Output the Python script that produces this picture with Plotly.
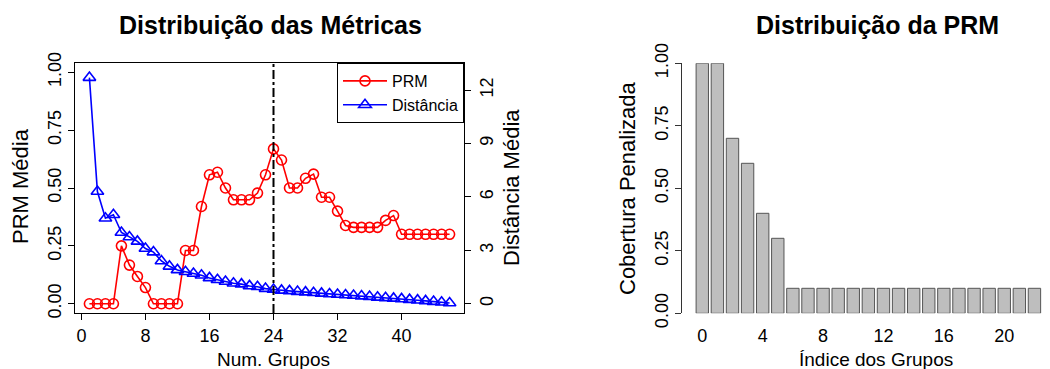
import plotly.graph_objects as go

# ---- data ----
num_grupos = [1, 2, 3, 4, 5, 6, 7, 8, 9, 10, 11, 12, 13, 14, 15, 16, 17, 18, 19, 20, 21, 22, 23,
              24, 25, 26, 27, 28, 29, 30, 31, 32, 33, 34, 35, 36, 37, 38, 39, 40, 41, 42, 43, 44, 45, 46]
prm_media = [0, 0, 0, 0, 0.25, 0.167, 0.118, 0.07, 0, 0, 0, 0, 0.23, 0.23, 0.42, 0.557, 0.568, 0.5,
             0.449, 0.449, 0.449, 0.478, 0.557, 0.669, 0.621, 0.5, 0.5, 0.542, 0.56, 0.46, 0.46, 0.40,
             0.338, 0.33, 0.33, 0.33, 0.33, 0.36, 0.381, 0.30, 0.30, 0.30, 0.30, 0.30, 0.30, 0.30]
distancia_media = [12.7, 6.3, 4.8, 5.0, 4.0, 3.75, 3.5, 3.1, 2.9, 2.4, 2.1, 1.9, 1.8, 1.7, 1.6, 1.45,
                   1.35, 1.25, 1.15, 1.1, 1.0, 0.95, 0.85, 0.8, 0.75, 0.72, 0.68, 0.65, 0.62, 0.58,
                   0.55, 0.52, 0.49, 0.46, 0.43, 0.4, 0.36, 0.33, 0.3, 0.27, 0.23, 0.2, 0.16, 0.12,
                   0.08, 0.04]
melhor_k = 24

indice_grupos = [0, 1, 2, 3, 4, 5, 6, 7, 8, 9, 10, 11, 12, 13, 14, 15, 16, 17, 18, 19, 20, 21, 22]
cobertura_penalizada = [1.0, 1.0, 0.7, 0.6, 0.4, 0.3, 0.1, 0.1, 0.1, 0.1, 0.1, 0.1, 0.1, 0.1, 0.1,
                        0.1, 0.1, 0.1, 0.1, 0.1, 0.1, 0.1, 0.1]

x_ticks_left = [0, 8, 16, 24, 32, 40]
y_ticks_left = [0, 0.25, 0.5, 0.75, 1.0]
y_ticks_right = [0, 3, 6, 9, 12]
x_ticks_bar = [0, 4, 8, 12, 16, 20]
y_ticks_bar = [0, 0.25, 0.5, 0.75, 1.0]

W, H = 1050, 369
FONT = "Liberation Sans, Arial, Helvetica, sans-serif"


def px(x):
    return x / W


def py(y):
    return 1 - y / H


fig = go.Figure()

fig.add_trace(go.Scatter(
    x=num_grupos, y=prm_media, name="PRM", mode="lines+markers",
    line=dict(color="#FF0000", width=1.6),
    marker=dict(symbol="circle-open", size=10, color="#FF0000", line=dict(width=1.6)),
    xaxis="x", yaxis="y"))
fig.add_trace(go.Scatter(
    x=num_grupos, y=distancia_media, name="Distância", mode="lines+markers",
    line=dict(color="#0000FF", width=1.6),
    marker=dict(symbol="triangle-up-open", size=11, color="#0000FF", line=dict(width=1.6)),
    xaxis="x", yaxis="y2"))

fig.add_trace(go.Bar(
    x=indice_grupos, y=cobertura_penalizada, width=0.82,
    marker=dict(color="#BEBEBE", line=dict(color="#555555", width=1)),
    showlegend=False, xaxis="x3", yaxis="y3"))

tickfont = dict(family=FONT, size=18, color="black")
common = dict(automargin=False, showgrid=False, zeroline=False, tickfont=tickfont)

fig.update_layout(
    template="none",
    width=W, height=H, margin=dict(l=0, r=0, t=0, b=0, pad=0), autosize=False,
    paper_bgcolor="white", plot_bgcolor="rgba(0,0,0,0)",
    font=dict(family=FONT, color="black"),
    xaxis=dict(domain=[px(75), px(464)], range=[-0.8, 47.8], tickvals=x_ticks_left,
               showline=True, mirror=True, linecolor="black", linewidth=1,
               ticks="outside", ticklen=6, tickcolor="black", anchor="y", **common),
    yaxis=dict(domain=[py(313), py(63)], range=[-0.04, 1.04], tickvals=y_ticks_left,
               ticktext=["0.00", "0.25", "0.50", "0.75", "1.00"],
               showline=True, mirror=True, linecolor="black", linewidth=1,
               ticks="outside", ticklen=6, tickcolor="black", tickangle=-90, anchor="x", **common),
    yaxis2=dict(overlaying="y", side="right", range=[-0.52, 13.52], tickvals=y_ticks_right,
                showline=False, ticks="outside", ticklen=6, tickcolor="black",
                tickangle=-90, anchor="x", **common),
    xaxis3=dict(domain=[px(681.7), 1.0], range=[-1.364, 23.03], tickvals=x_ticks_bar,
                showline=False, ticks="outside", ticklen=6, tickcolor="rgba(0,0,0,0)",
                anchor="y3", **common),
    yaxis3=dict(domain=[py(313.3), py(63.3)], range=[0, 1], tickvals=y_ticks_bar,
                ticktext=["0.00", "0.25", "0.50", "0.75", "1.00"],
                showline=True, linecolor="#333333", linewidth=1,
                ticks="outside", ticklen=6, tickcolor="#333333", tickangle=-90,
                anchor="x3", **common),
    legend=dict(x=px(464), xanchor="right", y=py(63), yanchor="top",
                bordercolor="black", borderwidth=1, bgcolor="white",
                font=dict(family=FONT, size=16, color="black"),
                tracegroupgap=0, itemwidth=44),
    shapes=[dict(type="line", xref="x", yref="y domain", x0=melhor_k, x1=melhor_k, y0=0, y1=1,
                 line=dict(color="black", width=2, dash="dashdot"))],
    annotations=[
        dict(text="<b>Distribuição das Métricas</b>", x=px(270), y=py(25),
             font=dict(family=FONT, size=25, color="black")),
        dict(text="<b>Distribuição da PRM</b>", x=px(877), y=py(25),
             font=dict(family=FONT, size=25, color="black")),
        dict(text="Num. Grupos", x=px(273), y=py(359),
             font=dict(family=FONT, size=19, color="black")),
        dict(text="Índice dos Grupos", x=px(876), y=py(359),
             font=dict(family=FONT, size=19, color="black")),
        dict(text="PRM Média", x=px(20), y=py(186), textangle=-90,
             font=dict(family=FONT, size=22, color="black")),
        dict(text="Distância Média", x=px(511), y=py(188), textangle=-90,
             font=dict(family=FONT, size=22, color="black")),
        dict(text="Cobertura Penalizada", x=px(627), y=py(188), textangle=-90,
             font=dict(family=FONT, size=22, color="black")),
    ],
)
for a in fig.layout.annotations:
    a.update(xref="paper", yref="paper", showarrow=False, xanchor="center", yanchor="middle")

fig.write_html("out.html", config={"displayModeBar": False},
               post_script="document.body.style.margin='0px';")
